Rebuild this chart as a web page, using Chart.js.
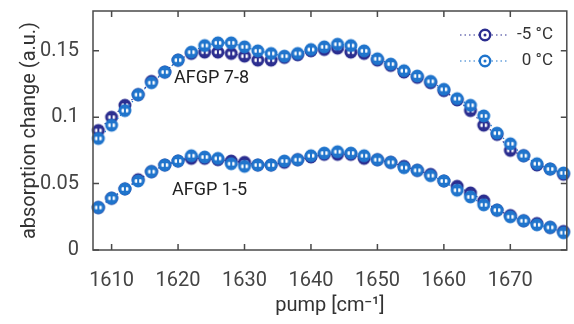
<!DOCTYPE html>
<html>
<head>
<meta charset="utf-8">
<script src="https://cdn.jsdelivr.net/npm/chart.js@4.4.1/dist/chart.umd.min.js"></script>
<style>
  html, body { margin: 0; padding: 0; background: #fff; }
  #wrap { width: 574px; height: 324px; }
</style>
</head>
<body>
<div id="wrap"><canvas id="absChart" width="574" height="324"></canvas></div>
<script>
// pump frequency (cm^-1)
const pump = [1608, 1610, 1612, 1614, 1616, 1618, 1620, 1622, 1624, 1626, 1628, 1630,
              1632, 1634, 1636, 1638, 1640, 1642, 1644, 1646, 1648, 1650, 1652, 1654,
              1656, 1658, 1660, 1662, 1664, 1666, 1668, 1670, 1672, 1674, 1676, 1678];

// AFGP 7-8
const afgp78Minus5 = [0.090, 0.100, 0.109, 0.117, 0.127, 0.134, 0.143, 0.148, 0.149, 0.149, 0.148, 0.146,
                      0.143, 0.143, 0.145, 0.147, 0.150, 0.151, 0.152, 0.149, 0.148, 0.143, 0.139, 0.134,
                      0.130, 0.126, 0.120, 0.113, 0.105, 0.094, 0.087, 0.075, 0.071, 0.064, 0.061, 0.057];
const afgp78Zero   = [0.084, 0.094, 0.105, 0.117, 0.126, 0.134, 0.143, 0.149, 0.154, 0.156, 0.156, 0.153,
                      0.150, 0.148, 0.146, 0.148, 0.151, 0.153, 0.155, 0.154, 0.150, 0.144, 0.140, 0.135,
                      0.131, 0.127, 0.121, 0.114, 0.109, 0.101, 0.088, 0.080, 0.071, 0.065, 0.061, 0.058];

// AFGP 1-5
const afgp15Minus5 = [0.032, 0.039, 0.046, 0.053, 0.059, 0.064, 0.067, 0.069, 0.069, 0.068, 0.067, 0.066,
                      0.064, 0.064, 0.066, 0.068, 0.070, 0.072, 0.072, 0.072, 0.069, 0.068, 0.066, 0.063,
                      0.060, 0.057, 0.052, 0.048, 0.043, 0.037, 0.030, 0.026, 0.022, 0.020, 0.017, 0.014];
const afgp15Zero   = [0.032, 0.039, 0.046, 0.052, 0.059, 0.064, 0.067, 0.071, 0.070, 0.069, 0.065, 0.063,
                      0.064, 0.064, 0.067, 0.068, 0.071, 0.073, 0.074, 0.073, 0.071, 0.068, 0.066, 0.062,
                      0.060, 0.056, 0.052, 0.045, 0.040, 0.034, 0.030, 0.025, 0.022, 0.019, 0.017, 0.013];

const xTicks = [1610, 1620, 1630, 1640, 1650, 1660, 1670];
const yTicks = [0, 0.05, 0.1, 0.15];

const cMinus5 = '#2b2d8f';
const cZero = '#1f74cc';
const fontFam = 'Roboto, "Open Sans", sans-serif';

// open circle with a small error bar, MATLAB style
function makeMarker(color) {
  const c = document.createElement('canvas');
  c.width = 16; c.height = 16;
  const g = c.getContext('2d');
  g.strokeStyle = color;
  g.fillStyle = '#fff';
  g.lineWidth = 3;
  g.beginPath(); g.arc(8, 8, 5, 0, Math.PI * 2); g.fill(); g.stroke();
  g.lineWidth = 2;
  g.beginPath();
  g.moveTo(8, 2.5); g.lineTo(8, 13.5);
  g.moveTo(4.5, 5.2); g.lineTo(11.5, 5.2);
  g.moveTo(4.5, 10.8); g.lineTo(11.5, 10.8);
  g.stroke();
  return c;
}
const mkMinus5 = makeMarker(cMinus5);
const mkZero = makeMarker(cZero);

function pts(vals) {
  return pump.map((p, i) => ({ x: p, y: vals[i] }));
}

function series(label, vals, color, marker, order) {
  return {
    label: label,
    data: pts(vals),
    borderColor: color,
    backgroundColor: color,
    borderWidth: 1.2,
    borderDash: [1.5, 3],
    pointStyle: marker,
    pointRadius: 6,
    order: order,
    clip: false
  };
}

const framePlugin = {
  id: 'frame',
  afterDraw(chart) {
    const { ctx, chartArea: a, scales: { x, y } } = chart;
    ctx.save();
    ctx.strokeStyle = '#4a4a4a';
    ctx.lineWidth = 1.5;
    ctx.strokeRect(a.left, a.top, a.right - a.left, a.bottom - a.top);
    const tl = 6;
    ctx.beginPath();
    xTicks.forEach(v => {
      const px = x.getPixelForValue(v);
      ctx.moveTo(px, a.bottom); ctx.lineTo(px, a.bottom - tl);
      ctx.moveTo(px, a.top); ctx.lineTo(px, a.top + tl);
    });
    yTicks.forEach(v => {
      const py = y.getPixelForValue(v);
      ctx.moveTo(a.left, py); ctx.lineTo(a.left + tl, py);
      ctx.moveTo(a.right, py); ctx.lineTo(a.right - tl, py);
    });
    ctx.stroke();

    // curve labels
    ctx.fillStyle = '#222';
    ctx.font = '18px ' + fontFam;
    ctx.textBaseline = 'middle';
    ctx.textAlign = 'left';
    ctx.fillText('AFGP 7-8', x.getPixelForValue(1619.4), y.getPixelForValue(0.129));
    ctx.fillText('AFGP 1-5', x.getPixelForValue(1619.1), y.getPixelForValue(0.045));

    // legend
    const entries = [
      { text: chart.data.datasets[0].label, color: cMinus5, yy: 35 },
      { text: chart.data.datasets[1].label, color: cZero, yy: 61 }
    ];
    ctx.font = '17px ' + fontFam;
    entries.forEach(e => {
      ctx.strokeStyle = e.color;
      ctx.lineWidth = 1.2;
      ctx.setLineDash([1.5, 3]);
      ctx.beginPath();
      ctx.moveTo(460, e.yy); ctx.lineTo(508, e.yy);
      ctx.stroke();
      ctx.setLineDash([]);
      ctx.beginPath();
      ctx.fillStyle = '#fff';
      ctx.lineWidth = 2.4;
      ctx.arc(485, e.yy, 5.2, 0, Math.PI * 2);
      ctx.fill(); ctx.stroke();
      ctx.fillStyle = e.color;
      ctx.beginPath();
      ctx.arc(485, e.yy, 1.5, 0, Math.PI * 2);
      ctx.fill();
      ctx.fillStyle = '#333';
      ctx.textAlign = 'right';
      ctx.fillText(e.text, 553, e.yy);
    });
    ctx.restore();
  }
};

new Chart(document.getElementById('absChart').getContext('2d'), {
  type: 'line',
  data: {
    datasets: [
      series('-5 °C', afgp78Minus5, cMinus5, mkMinus5, 1),
      series('0 °C', afgp78Zero, cZero, mkZero, 0),
      series('-5 °C', afgp15Minus5, cMinus5, mkMinus5, 1),
      series('0 °C', afgp15Zero, cZero, mkZero, 0)
    ]
  },
  options: {
    responsive: false,
    animation: false,
    layout: { padding: { top: 11, right: 2, left: 0, bottom: 0 } },
    plugins: { legend: { display: false }, tooltip: { enabled: false } },
    scales: {
      x: {
        type: 'linear',
        min: 1607.2,
        max: 1678.5,
        afterBuildTicks: s => { s.ticks = xTicks.map(v => ({ value: v })); },
        afterFit: s => { s.height = 74; s.paddingLeft = 0; s.paddingRight = 0; },
        grid: { display: false, drawTicks: false },
        border: { display: false },
        ticks: { padding: 19, color: '#444', font: { family: fontFam, size: 20 }, maxRotation: 0, callback: v => String(v) },
        title: { display: true, text: 'pump [cm⁻¹]', color: '#333', font: { family: fontFam, size: 20 }, padding: { top: 0, bottom: 6 } }
      },
      y: {
        min: 0,
        max: 0.18,
        afterBuildTicks: s => { s.ticks = yTicks.map(v => ({ value: v })); },
        afterFit: s => { s.width = 93; s.paddingTop = 0; s.paddingBottom = 0; },
        grid: { display: false, drawTicks: false },
        border: { display: false },
        ticks: { padding: 14, color: '#444', font: { family: fontFam, size: 20 }, callback: v => String(v) },
        title: { display: true, text: 'absorption change (a.u.)', color: '#333', font: { family: fontFam, size: 20 }, padding: { top: 18, bottom: 0 } }
      }
    }
  },
  plugins: [framePlugin]
});
</script>
</body>
</html>
